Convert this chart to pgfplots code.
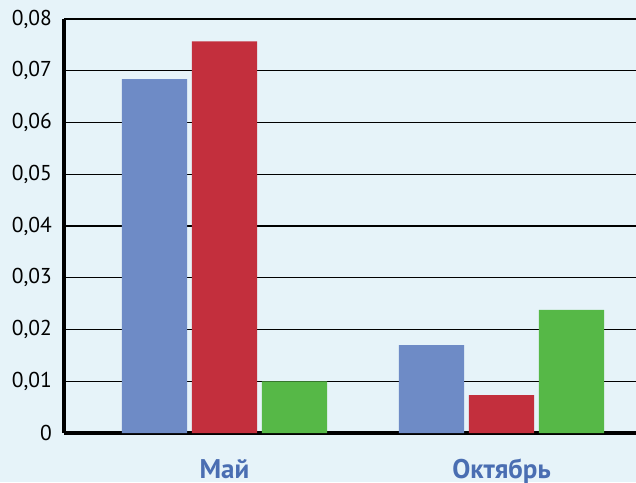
\documentclass[border=0pt]{standalone}
\usepackage{pgfplots}
\pgfplotsset{compat=1.18}
\usepackage{fontspec}
\setmainfont{PT Sans}
\definecolor{bgc}{HTML}{E6F3F9}
\definecolor{cblue}{HTML}{6E8BC6}
\definecolor{cred}{HTML}{C32F3D}
\definecolor{cgreen}{HTML}{56B847}
\definecolor{clab}{HTML}{4A6EB2}
\begin{document}
\begin{tikzpicture}[x=1pt,y=1pt]
\fill[bgc] (0,0) rectangle (636,482);
\useasboundingbox (0,0) rectangle (636,482);
\clip (0,0) rectangle (636,482);
\begin{axis}[
  at={(64pt,49pt)}, anchor=south west,
  scale only axis, width=572pt, height=414pt,
  xmin=-0.5794, xmax=1.4856, ymin=0, ymax=0.08,
  axis lines*=left,
  axis line style={line width=3.5pt, -},
  ymajorgrids, grid style={black, line width=1.3pt},
  xtick={0,1}, xticklabels={Май,Октябрь},
  ytick={0,0.01,0.02,0.03,0.04,0.05,0.06,0.07,0.08},
  yticklabels={0,{0,01},{0,02},{0,03},{0,04},{0,05},{0,06},{0,07},{0,08}},
  scaled y ticks=false,
  major tick length=0pt,
  yticklabel style={font=\fontsize{21.5}{25}\selectfont, inner sep=0pt, anchor=east, xshift=-12pt},
  xticklabel style={font=\fontsize{27}{30}\selectfont\bfseries, text=clab, inner sep=0pt, anchor=north, yshift=-26pt},
  ybar, bar width=0.2347,
  every axis plot/.append style={draw=none},
]
\addplot[fill=cblue, bar shift=-0.2527] coordinates {(0,0.0684) (1,0.0170)};
\addplot[fill=cred, bar shift=0] coordinates {(0,0.0757) (1,0.0073)};
\addplot[fill=cgreen, bar shift=0.2527] coordinates {(0,0.0100) (1,0.0238)};
\end{axis}
\end{tikzpicture}
\end{document}
